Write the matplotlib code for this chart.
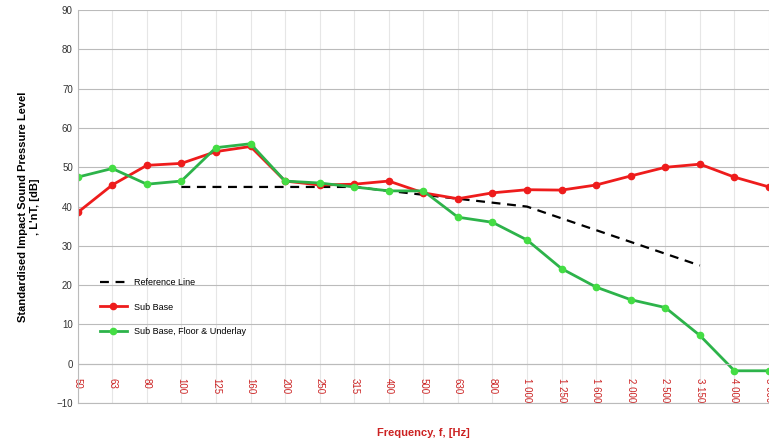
import matplotlib
matplotlib.use("Agg")
import matplotlib.pyplot as plt

freqs = ["50","63","80","100","125","160","200","250","315","400","500","630","800",
         "1 000","1 250","1 600","2 000","2 500","3 150","4 000","5 000"]
sub_base = [38.5,45.5,50.5,51,54,55.3,46.5,45.5,45.7,46.5,43.5,42,43.5,44.3,44.2,45.5,47.8,50,50.8,47.5,45]
sub_floor = [47.5,49.7,45.7,46.5,55,56,46.5,46,45,44,44,37.3,36,31.5,24.2,19.5,16.3,14.3,7.2,-1.8,-1.8]
ref_freqs = freqs[3:19]
ref_vals = [45,45,45,45,45,45,44,43,42,41,40,37,34,31,28,25]

plt.rcParams['font.family'] = ['Liberation Sans', 'DejaVu Sans']
fig = plt.figure(figsize=(7.69,4.43), dpi=100)
ax = fig.add_axes([0.101, 0.0903, 0.899, 0.8867])
x = list(range(len(freqs)))
xr = [freqs.index(f) for f in ref_freqs]
ax.plot(xr, ref_vals, color='black', ls=(0,(4,3)), lw=1.6, label='Reference Line')
ax.plot(x, sub_base, color='#ee1c1c', marker='o', ms=4.5, lw=2, label='Sub Base')
ax.plot(x, sub_floor, color='#2db34a', marker='o', ms=4.5, lw=2, mfc='#44dd44', mec='#44dd44', label='Sub Base, Floor & Underlay')
ax.set_xlim(0, 20)
ax.set_ylim(-10, 90)
ax.set_yticks(range(-10, 91, 10))
ax.set_xticks(x)
ax.set_xticklabels(freqs, rotation=-90, color='#cc2222', fontsize=7)
ax.tick_params(axis='x', length=0, pad=-18)
ax.tick_params(axis='y', length=0, labelsize=7, colors='#333333')
ax.grid(axis='y', color='#bbbbbb', lw=0.8)
ax.grid(axis='x', color='#e6e6e6', lw=0.8)
ax.axhline(0, color='#bbbbbb', lw=0.8)
for s in ['top','right']:
    ax.spines[s].set_visible(False)
ax.spines['left'].set_color('#bbbbbb')
ax.spines['bottom'].set_color('#bbbbbb')
ax.set_ylabel("Standardised Impact Sound Pressure Level\n, L'nT, [dB]", fontsize=8, fontweight='bold', labelpad=12)
ax.set_xlabel("Frequency, f, [Hz]", fontsize=8, fontweight='bold', color='#cc2222', labelpad=18)
ax.legend(loc='lower left', bbox_to_anchor=(0.02, 0.15), frameon=False, fontsize=6.5, labelspacing=1.7, handlelength=3)
fig.savefig("out.png", dpi=100)
